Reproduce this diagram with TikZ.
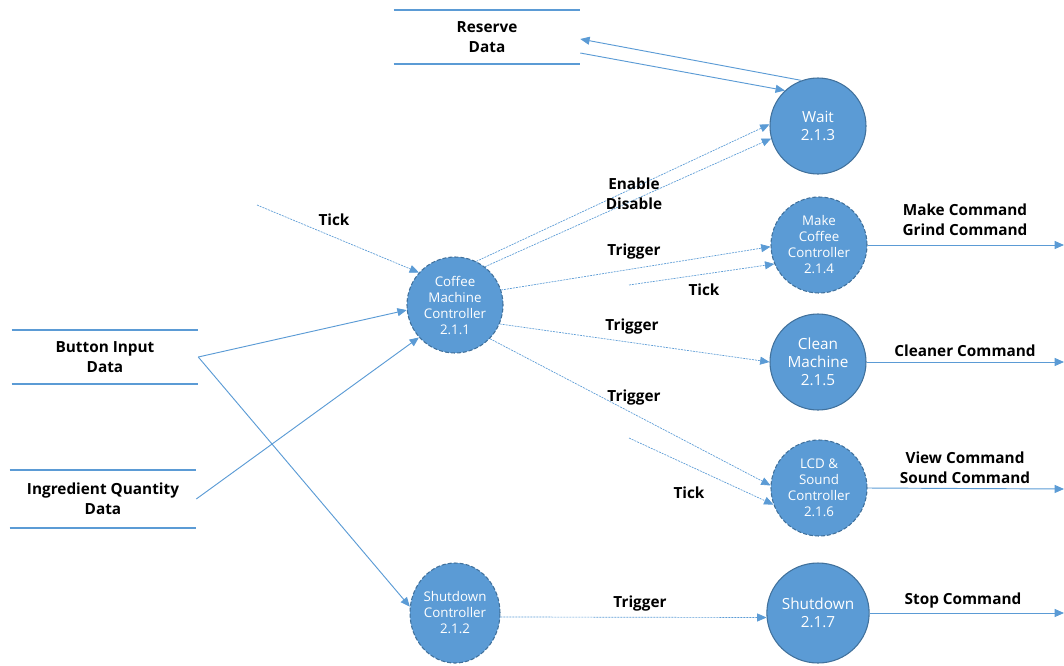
\documentclass[tikz,border=0pt]{standalone}
\usepackage{fontspec}
\setmainfont{Open Sans}
\usepackage{tikz}
\usetikzlibrary{arrows.meta}
\usetikzlibrary{shapes.geometric}
\usepackage{color}
\definecolor{flowblue}{RGB}{91, 155, 213}
\definecolor{rimblue}{RGB}{65, 113, 156}

\begin{document}
\begin{tikzpicture}[x=0.75pt, y=-0.75pt,
        proc/.style={circle, fill=flowblue, draw=rimblue, line width=0.8pt, minimum size=72pt,
                     inner sep=0pt, text=white, align=center, font=\fontsize{10}{12}\selectfont},
        ctrl/.style={proc, dash pattern=on 3pt off 1.5pt},
        bigtext/.style={font=\fontsize{11.5}{13.5}\selectfont},
        store/.style={minimum width=139.5pt, minimum height=40.5pt, align=center,
                      font=\bfseries\fontsize{11.5}{15}\selectfont},
        storeline/.style={draw=flowblue, line width=1.5pt},
        flow/.style={draw=flowblue, line width=0.7pt, -{Triangle[length=7pt, width=6pt]}},
        ctlflow/.style={flow, line width=0.5pt, dash pattern=on 1.5pt off 0.75pt},
        lbl/.style={align=center, font=\bfseries\fontsize{11.5}{15}\selectfont}]
            \useasboundingbox (0,0) rectangle (1064,665);
            % Data stores
            \node[store]                          (res) at (487,37)  {Reserve\\Data};
            \node[store]                          (btn) at (105,357) {Button Input\\Data};
            \node[store, minimum height=43.5pt]   (ing) at (103,499) {Ingredient Quantity\\Data};
            \foreach \s in {res, btn, ing} {
                \draw[storeline] (\s.north west) -- (\s.north east);
                \draw[storeline] (\s.south west) -- (\s.south east);
            }
            % Processes
            \node[ctrl]          (cmc)  at (455,305) {Coffee\\Machine\\Controller\\2.1.1};
            \node[proc, bigtext] (wait) at (818,126) {Wait\\2.1.3};
            \node[ctrl]          (mcc)  at (819,245) {Make\\Coffee\\Controller\\2.1.4};
            \node[proc, bigtext] (cln)  at (818,362) {Clean\\Machine\\2.1.5};
            \node[ctrl]          (lcd)  at (819,488) {LCD \&\\Sound\\Controller\\2.1.6};
            \node[ctrl, ellipse, minimum width=67.5pt, minimum height=75pt]
                                 (sdc)  at (455,613) {Shutdown\\Controller\\2.1.2};
            \node[proc, bigtext, ellipse, minimum width=72pt, minimum height=75pt]
                                 (sd)   at (818,613) {Shutdown\\2.1.7};
            % Loose ends
            \coordinate (tk1) at (257,205);
            \coordinate (tk2) at (629,285);
            \coordinate (tk3) at (629,438);
            \coordinate (o4)  at (1064,245);
            \coordinate (o5)  at (1064,362);
            \coordinate (o6)  at (1064,489);
            \coordinate (o7)  at (1064,613);
            % Reserve data flows
            \draw[flow]    (wait.110) -- ([yshift=-1.5pt]res.east);
            \draw[flow]    ([yshift=-12pt]res.east) -- (wait.133);
            % Control flows
            \draw[ctlflow] (tk1)      -- (cmc.138);
            \draw[ctlflow] (cmc.64)   -- (wait.178);
            \draw[ctlflow] (cmc.52)   -- (wait.195);
            \draw[ctlflow] (cmc.18)   -- (mcc.182);
            \draw[ctlflow] (tk2)      -- (mcc.203);
            \draw[ctlflow] (cmc.337)  -- (cln.180);
            \draw[ctlflow] (cmc.316)  -- (lcd.177);
            \draw[ctlflow] (tk3)      -- (lcd.200);
            \draw[ctlflow] (sdc.-5)   -- (sd.185);
            % Data flows
            \draw[flow]    (btn.east) -- (cmc.186);
            \draw[flow]    (btn.east) -- (sdc.172);
            \draw[flow]    (ing.east) -- (cmc.222);
            \draw[flow]    (mcc.east) -- (o4);
            \draw[flow]    (cln.east) -- (o5);
            \draw[flow]    (lcd.east) -- (o6);
            \draw[flow]    (sd.east)  -- (o7);
            % Labels
            \node[lbl] (l1)  at (334,220) {Tick};
            \node[lbl] (l2)  at (634,194) {Enable\\Disable};
            \node[lbl] (l3)  at (634,252) {Trigger};
            \node[lbl] (l4)  at (704,290) {Tick};
            \node[lbl] (l5)  at (632,327) {Trigger};
            \node[lbl] (l6)  at (634,398) {Trigger};
            \node[lbl] (l7)  at (689,493) {Tick};
            \node[lbl] (l8)  at (640,604) {Trigger};
            \node[lbl] (l9)  at (965,220) {Make Command\\Grind Command};
            \node[lbl] (l10) at (965,351) {Cleaner Command};
            \node[lbl] (l11) at (965,468) {View Command\\Sound Command};
            \node[lbl] (l12) at (963,601) {Stop Command};
        \end{tikzpicture}
\end{document}
